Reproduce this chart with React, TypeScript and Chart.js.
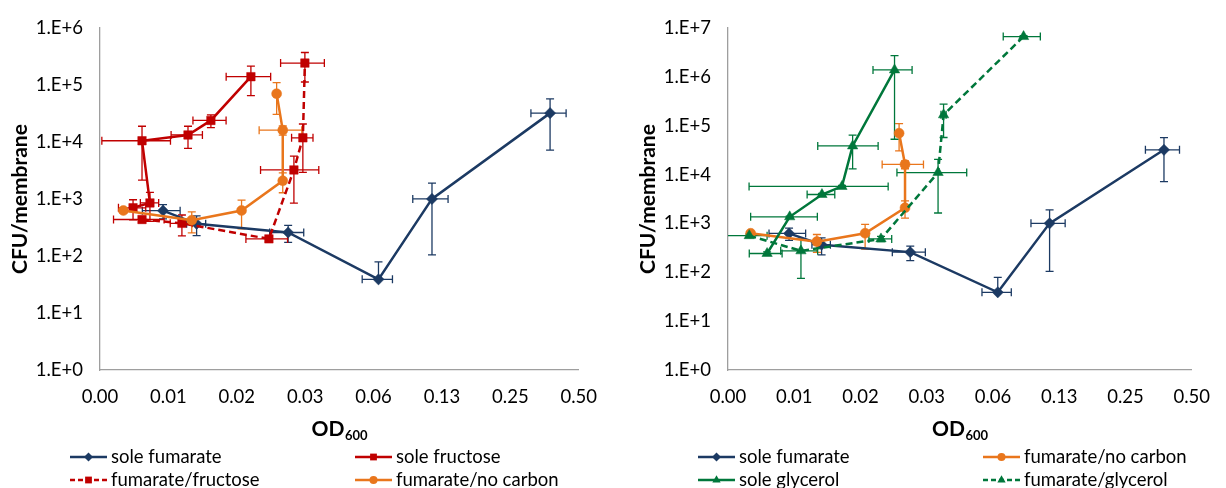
import React, { useEffect, useRef } from 'react';
import { Chart, registerables } from 'chart.js';

Chart.register(...registerables);

const FONT = 'Lato, "Open Sans", "DejaVu Sans", sans-serif';

// ---- axes ----
const xTickValues = [0.00390625, 0.0078125, 0.015625, 0.03125, 0.0625, 0.125, 0.25, 0.5];
const xTickLabels = ['0.00', '0.01', '0.02', '0.03', '0.06', '0.13', '0.25', '0.50'];
const leftYTickValues = [1, 10, 100, 1e3, 1e4, 1e5, 1e6];
const leftYTickLabels = ['1.E+0', '1.E+1', '1.E+2', '1.E+3', '1.E+4', '1.E+5', '1.E+6'];
const rightYTickValues = [1, 10, 100, 1e3, 1e4, 1e5, 1e6, 1e7];
const rightYTickLabels = ['1.E+0', '1.E+1', '1.E+2', '1.E+3', '1.E+4', '1.E+5', '1.E+6', '1.E+7'];
const xAxisTitle = 'OD';
const xAxisTitleSub = '600';
const yAxisTitle = 'CFU/membrane';

// ---- series: sole fumarate ----
const soleFumarateOD = [0.0074, 0.0104, 0.0263, 0.0657, 0.113, 0.374];
const soleFumarateCFU = [625, 368, 259, 39, 1005, 32200];
const soleFumarateODErr = [0.0014, 0.001, 0.0045, 0.01, 0.02, 0.066];
const soleFumarateCFUErr = [175, 140, 85, 40, 900, 25000];

// ---- series: sole fructose ----
const soleFructoseOD = [0.00546, 0.00648, 0.00598, 0.00953, 0.01202, 0.01803];
const soleFructoseCFU = [702, 855, 10540, 13330, 23990, 140400];
const soleFructoseODErr = [0.00075, 0.0006, 0.002, 0.0015, 0.002, 0.004];
const soleFructoseCFUErr = [270, 450, 8400, 5600, 6000, 75000];

// ---- series: fumarate/fructose ----
const fumFructoseOD = [0.00598, 0.00896, 0.02164, 0.02788, 0.03053, 0.03116];
const fumFructoseCFU = [438, 375, 200, 3245, 11850, 243200];
const fumFructoseODErr = [0.0015, 0.001, 0.0045, 0.008, 0.0033, 0.0068];
const fumFructoseCFUErr = [50, 150, 20, 2400, 8900, 130000];

// ---- series: fumarate/no carbon ----
const fumNoCarbonOD = [0.00495, 0.0099, 0.0164, 0.0249, 0.0249, 0.0234];
const fumNoCarbonCFU = [630, 425, 630, 2090, 16200, 70500];
const fumNoCarbonODErr = [0, 0, 0, 0, 0.0053, 0];
const fumNoCarbonCFUErr = [60, 170, 330, 800, 3000, 40000];

// ---- series: sole glycerol ----
const soleGlycerolOD = [0.00588, 0.00745, 0.01044, 0.01287, 0.01439, 0.02231];
const soleGlycerolCFU = [243, 1367, 3918, 5730, 38660, 1393000];
const soleGlycerolODErr = [0.001, 0.0025, 0.0015, 0.008, 0.0044, 0.0045];
const soleGlycerolCFUErr = [20, 50, 200, 300, 25500, 1340000];

// ---- series: fumarate/glycerol ----
const fumGlycerolOD = [0.00488, 0.00838, 0.01936, 0.03518, 0.03727, 0.08607];
const fumGlycerolCFU = [563, 275, 483, 11040, 167500, 6710000];
const fumGlycerolODErr = [0.001, 0.0016, 0.0023, 0.0123, 0.001, 0.0165];
const fumGlycerolCFUErr = [40, 200, 60, 9400, 110000, 300000];

const NAVY = '#1C3A63';
const RED = '#C00000';
const ORANGE = '#E9761C';
const GREEN = '#00773B';

type Series = {
  label: string;
  od: number[];
  cfu: number[];
  odErr: number[];
  cfuErr: number[];
  color: string;
  dashed: boolean;
  marker: string;
  radius: number;
};

const sFumarate: Series = { label: 'sole fumarate', od: soleFumarateOD, cfu: soleFumarateCFU, odErr: soleFumarateODErr, cfuErr: soleFumarateCFUErr, color: NAVY, dashed: false, marker: 'rectRot', radius: 5.6 };
const sFructose: Series = { label: 'sole fructose', od: soleFructoseOD, cfu: soleFructoseCFU, odErr: soleFructoseODErr, cfuErr: soleFructoseCFUErr, color: RED, dashed: false, marker: 'rect', radius: 6 };
const sFumFructose: Series = { label: 'fumarate/fructose', od: fumFructoseOD, cfu: fumFructoseCFU, odErr: fumFructoseODErr, cfuErr: fumFructoseCFUErr, color: RED, dashed: true, marker: 'rect', radius: 6 };
const sNoCarbon: Series = { label: 'fumarate/no carbon', od: fumNoCarbonOD, cfu: fumNoCarbonCFU, odErr: fumNoCarbonODErr, cfuErr: fumNoCarbonCFUErr, color: ORANGE, dashed: false, marker: 'circle', radius: 5 };
const sGlycerol: Series = { label: 'sole glycerol', od: soleGlycerolOD, cfu: soleGlycerolCFU, odErr: soleGlycerolODErr, cfuErr: soleGlycerolCFUErr, color: GREEN, dashed: false, marker: 'triangle', radius: 6 };
const sFumGlycerol: Series = { label: 'fumarate/glycerol', od: fumGlycerolOD, cfu: fumGlycerolCFU, odErr: fumGlycerolODErr, cfuErr: fumGlycerolCFUErr, color: GREEN, dashed: true, marker: 'triangle', radius: 6 };

const DASH = [7, 4];

function drawMarker(ctx: CanvasRenderingContext2D, style: string, x: number, y: number, r: number) {
  ctx.beginPath();
  if (style === 'rectRot') {
    ctx.moveTo(x, y - r);
    ctx.lineTo(x + r, y);
    ctx.lineTo(x, y + r);
    ctx.lineTo(x - r, y);
  } else if (style === 'rect') {
    const s = r * Math.SQRT1_2;
    ctx.rect(x - s, y - s, 2 * s, 2 * s);
  } else if (style === 'circle') {
    ctx.arc(x, y, r, 0, Math.PI * 2);
  } else if (style === 'triangle') {
    ctx.moveTo(x, y - r);
    ctx.lineTo(x + r * 0.866, y + r / 2);
    ctx.lineTo(x - r * 0.866, y + r / 2);
  }
  ctx.closePath();
  ctx.fill();
}

const decorPlugin = {
  id: 'decor',
  beforeDatasetsDraw(chart: any) {
    const { ctx, chartArea } = chart;
    const xs = chart.scales.x;
    const ys = chart.scales.y;
    ctx.save();
    ctx.beginPath();
    ctx.rect(chartArea.left, chartArea.top - 2, chartArea.right - chartArea.left, chartArea.bottom - chartArea.top + 2);
    ctx.clip();
    const cap = 4;
    chart.data.datasets.forEach((ds: any) => {
      ctx.strokeStyle = ds.borderColor;
      ctx.lineWidth = 1.3;
      ctx.setLineDash([]);
      ds.data.forEach((p: any, i: number) => {
        const px = xs.getPixelForValue(p.x);
        const py = ys.getPixelForValue(p.y);
        const ex = ds.errX[i];
        const ey = ds.errY[i];
        if (ex > 0) {
          const lo = p.x - ex;
          const hi = p.x + ex;
          const x1 = xs.getPixelForValue(Math.max(lo, xs.min));
          const x2 = xs.getPixelForValue(Math.min(hi, xs.max));
          ctx.beginPath();
          ctx.moveTo(x1, py);
          ctx.lineTo(x2, py);
          if (lo > xs.min) { ctx.moveTo(x1, py - cap); ctx.lineTo(x1, py + cap); }
          if (hi < xs.max) { ctx.moveTo(x2, py - cap); ctx.lineTo(x2, py + cap); }
          ctx.stroke();
        }
        if (ey > 0) {
          const hi = p.y + ey;
          const lo = p.y - ey;
          const y1 = ys.getPixelForValue(Math.min(hi, ys.max));
          ctx.beginPath();
          ctx.moveTo(px, py);
          ctx.lineTo(px, y1);
          ctx.moveTo(px - cap, y1);
          ctx.lineTo(px + cap, y1);
          if (lo > 0) {
            const y2 = ys.getPixelForValue(Math.max(lo, ys.min));
            ctx.moveTo(px, py);
            ctx.lineTo(px, y2);
            ctx.moveTo(px - cap, y2);
            ctx.lineTo(px + cap, y2);
          }
          ctx.stroke();
        }
      });
    });
    ctx.restore();
  },
  afterDraw(chart: any) {
    const { ctx, chartArea } = chart;
    const opts = chart.options.plugins.decor;
    const L = chartArea.left;
    ctx.save();
    ctx.fillStyle = '#000';
    // y title
    ctx.save();
    ctx.translate(L - 80, (chartArea.top + chartArea.bottom) / 2);
    ctx.rotate(-Math.PI / 2);
    ctx.font = `bold 21px ${FONT}`;
    ctx.textAlign = 'center';
    ctx.textBaseline = 'middle';
    ctx.fillText(yAxisTitle, 0, 0);
    ctx.restore();
    // x title with subscript
    ctx.font = `bold 21px ${FONT}`;
    const w1 = ctx.measureText(xAxisTitle).width;
    ctx.font = `bold 13px ${FONT}`;
    const w2 = ctx.measureText(xAxisTitleSub).width;
    const cx = (chartArea.left + chartArea.right) / 2;
    const sx = cx - (w1 + w2) / 2;
    ctx.textAlign = 'left';
    ctx.textBaseline = 'middle';
    ctx.font = `bold 21px ${FONT}`;
    ctx.fillText(xAxisTitle, sx, 429);
    ctx.font = `bold 13px ${FONT}`;
    ctx.fillText(xAxisTitleSub, sx + w1 + 0.5, 436);
    // legend
    const colX = [L - 30, L + 255];
    const rowY = [457, 480];
    opts.legend.forEach((item: any) => {
      const ds = chart.data.datasets[item.ds];
      const x0 = colX[item.col];
      const y0 = rowY[item.row];
      ctx.strokeStyle = ds.borderColor;
      ctx.fillStyle = ds.borderColor;
      ctx.lineWidth = 2.5;
      ctx.setLineDash(ds.borderDash && ds.borderDash.length ? [5, 3] : []);
      ctx.beginPath();
      ctx.moveTo(x0, y0);
      ctx.lineTo(x0 + 37, y0);
      ctx.stroke();
      ctx.setLineDash([]);
      drawMarker(ctx, ds.pointStyle, x0 + 18.5, y0, ds.pointRadius * 0.8);
      ctx.fillStyle = '#000';
      ctx.font = `18.5px ${FONT}`;
      ctx.textAlign = 'left';
      ctx.textBaseline = 'middle';
      ctx.fillText(ds.label, x0 + 41, y0);
    });
    ctx.restore();
  },
};

type PanelProps = {
  left: number;
  width: number;
  plotLeft: number;
  padRight: number;
  series: Series[];
  yMax: number;
  yTickValues: number[];
  yTickLabels: string[];
  legend: { ds: number; col: number; row: number }[];
};

function Panel(props: PanelProps) {
  const ref = useRef<HTMLCanvasElement | null>(null);
  useEffect(() => {
    if (!ref.current) return;
    const n = props.series.length;
    const datasets = props.series.map((s, i) => ({
      label: s.label,
      data: s.od.map((x, k) => ({ x, y: s.cfu[k] })),
      errX: s.odErr,
      errY: s.cfuErr,
      showLine: true,
      borderColor: s.color,
      backgroundColor: s.color,
      borderWidth: 2.5,
      borderDash: s.dashed ? DASH : [],
      pointStyle: s.marker,
      pointRadius: s.radius,
      pointHoverRadius: s.radius,
      pointBackgroundColor: s.color,
      pointBorderColor: s.color,
      pointBorderWidth: 0.5,
      tension: 0,
      order: n - i,
    }));
    const chart = new Chart(ref.current, {
      type: 'scatter',
      data: { datasets } as any,
      plugins: [decorPlugin],
      options: {
        responsive: false,
        animation: false,
        devicePixelRatio: 1,
        events: [],
        layout: { padding: { top: 19, right: props.padRight, left: 0, bottom: 0 } },
        plugins: {
          legend: { display: false },
          tooltip: { enabled: false },
          decor: { legend: props.legend },
        } as any,
        scales: {
          x: {
            type: 'logarithmic',
            min: xTickValues[0],
            max: xTickValues[xTickValues.length - 1],
            afterFit: (s: any) => { s.height = 118; },
            afterBuildTicks: (s: any) => { s.ticks = xTickValues.map((v) => ({ value: v })); },
            ticks: {
              autoSkip: false,
              maxRotation: 0,
              minRotation: 0,
              padding: 16,
              color: '#000',
              font: { family: FONT, size: 18.5 },
              callback: (_v: any, i: number) => xTickLabels[i],
            },
            grid: { display: false, drawTicks: false },
            border: { display: true, color: '#9E9E9E', width: 1.3 },
          },
          y: {
            type: 'logarithmic',
            min: props.yTickValues[0],
            max: props.yMax,
            afterFit: (s: any) => { s.width = props.plotLeft; },
            afterBuildTicks: (s: any) => { s.ticks = props.yTickValues.map((v) => ({ value: v })); },
            ticks: {
              autoSkip: false,
              padding: 17,
              color: '#000',
              font: { family: FONT, size: 18.5 },
              callback: (_v: any, i: number) => props.yTickLabels[i],
            },
            grid: { display: false, drawTicks: false },
            border: { display: true, color: '#9E9E9E', width: 1.3 },
          },
        },
      } as any,
    });
    return () => chart.destroy();
  }, []);
  return (
    <canvas
      ref={ref}
      width={props.width}
      height={488}
      style={{ position: 'absolute', left: props.left, top: 0, width: props.width, height: 488 }}
    />
  );
}

export default function App() {
  return (
    <div style={{ position: 'absolute', left: 0, top: 0, width: 1226, height: 488, background: '#fff', overflow: 'hidden' }}>
      <Panel
        left={0}
        width={613}
        plotLeft={100}
        padRight={34}
        series={[sFumarate, sFructose, sFumFructose, sNoCarbon]}
        yMax={leftYTickValues[leftYTickValues.length - 1]}
        yTickValues={leftYTickValues}
        yTickLabels={leftYTickLabels}
        legend={[
          { ds: 0, col: 0, row: 0 },
          { ds: 1, col: 1, row: 0 },
          { ds: 2, col: 0, row: 1 },
          { ds: 3, col: 1, row: 1 },
        ]}
      />
      <Panel
        left={613}
        width={613}
        plotLeft={115}
        padRight={19}
        series={[sFumarate, sNoCarbon, sGlycerol, sFumGlycerol]}
        yMax={rightYTickValues[rightYTickValues.length - 1]}
        yTickValues={rightYTickValues}
        yTickLabels={rightYTickLabels}
        legend={[
          { ds: 0, col: 0, row: 0 },
          { ds: 1, col: 1, row: 0 },
          { ds: 2, col: 0, row: 1 },
          { ds: 3, col: 1, row: 1 },
        ]}
      />
    </div>
  );
}
